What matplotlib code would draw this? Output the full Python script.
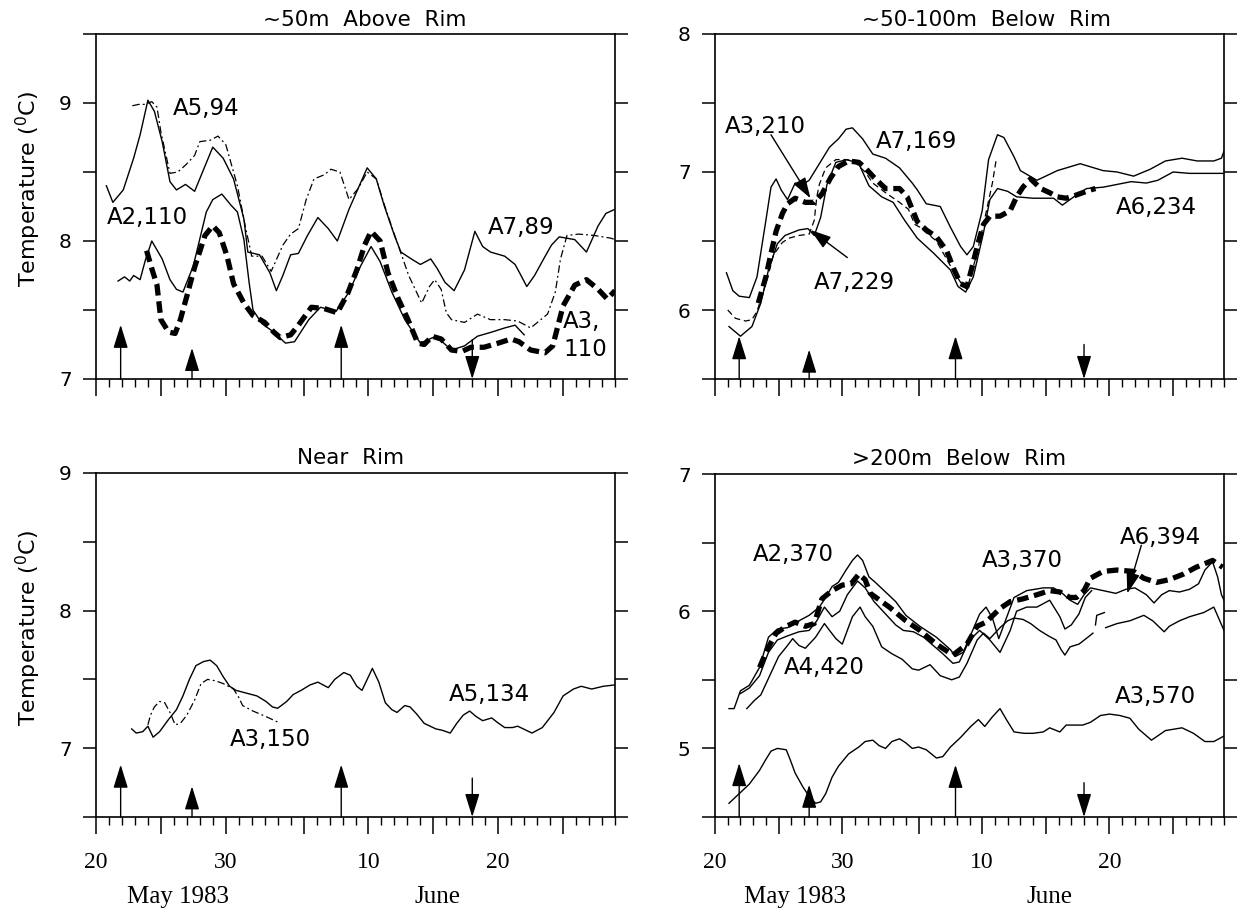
import numpy as np
import matplotlib
matplotlib.use('Agg')
import matplotlib.pyplot as plt
from matplotlib.ticker import FixedLocator, MultipleLocator, FuncFormatter

plt.rcParams['font.family'] = ['DejaVu Sans']
plt.rcParams['mathtext.default'] = 'regular'

nan = np.nan

# x axis is days after 20 May 1983 (day 11 = 31 May, day 12 = 1 June)

# ---- ~50m above rim ----
a7_89_day = [0.8, 1.3, 2.1, 2.9, 3.4, 4.0, 4.5, 5.1, 5.7, 6.2, 6.9, 7.6, 8.3, 9.0, 9.8,
             10.6, 11.4, 11.7, 12.6, 13.4, 13.9, 14.4, 15.0, 15.6, 16.3, 17.1, 17.9, 18.6,
             19.5, 20.2, 20.9, 21.6, 22.2, 23.0, 23.5, 24.3, 25.0, 25.8, 26.3, 26.9, 27.6,
             28.4, 29.2, 29.8, 30.4, 31.5, 32.3, 32.7, 33.2, 33.8, 34.5, 35.1, 35.7, 36.3,
             36.9, 37.8, 38.7, 39.3, 40.0]
a7_89_t = [8.40, 8.28, 8.37, 8.60, 8.77, 9.02, 8.94, 8.72, 8.43, 8.37, 8.41, 8.36, 8.52, 8.68,
           8.60, 8.45, 8.16, 7.92, 7.90, 7.77, 7.64, 7.75, 7.90, 7.91, 8.04, 8.17, 8.09, 8.00,
           8.23, 8.38, 8.53, 8.45, 8.26, 8.04, 7.92, 7.87, 7.83, 7.87, 7.80, 7.70, 7.64, 7.79,
           8.07, 7.96, 7.92, 7.89, 7.83, 7.76, 7.67, 7.75, 7.87, 7.97, 8.03, 8.02, 8.01, 7.92,
           8.11, 8.20, 8.23]

a5_94_day = [2.8, 3.3, 3.8, 4.3, 4.7, 5.0, 5.4, 5.7, 6.3, 6.9, 7.6, 8.0, 8.8, 9.4, 10.0,
             10.9, 11.5, 12.0, 12.8, 13.5, 14.4, 15.0, 15.6, 16.2, 16.8, 17.6, 18.1, 18.8,
             19.5, 20.2, 20.9, 21.6, 22.3, 23.1, 24.1, 24.7, 25.1, 25.7, 26.1, 26.6, 27.0,
             27.4, 28.4, 29.4, 30.4, 31.5, 32.5, 33.5, 34.8, 35.4, 35.8, 36.3, 37.2, 38.4,
             39.7, 40.0]
a5_94_t = [8.98, 8.99, 8.99, 9.01, 8.97, 8.79, 8.62, 8.49, 8.50, 8.55, 8.62, 8.72, 8.73, 8.76,
           8.70, 8.40, 8.11, 7.89, 7.89, 7.78, 7.97, 8.05, 8.09, 8.30, 8.45, 8.48, 8.52, 8.50,
           8.30, 8.38, 8.50, 8.45, 8.24, 8.02, 7.75, 7.63, 7.55, 7.67, 7.72, 7.65, 7.48, 7.43,
           7.41, 7.47, 7.43, 7.43, 7.42, 7.37, 7.47, 7.63, 7.87, 8.04, 8.05, 8.04, 8.02, 8.01]

a2_110_day = [1.7, 2.2, 2.6, 2.9, 3.4, 3.8, 4.3, 5.1, 5.7, 6.2, 6.7, 7.5, 8.5, 9.0, 9.7,
              10.4, 10.9, 11.4, 11.8, 12.1, 12.8, 13.7, 14.6, 15.3, 16.4, 17.3, 18.5, 19.5,
              20.4, 21.2, 21.9, 22.8, 23.8, 25.0, 26.2, 27.4, 28.4, 29.4, 30.5, 31.5, 32.3, 33.0]
a2_110_t = [7.71, 7.74, 7.71, 7.75, 7.72, 7.86, 8.00, 7.87, 7.72, 7.65, 7.63, 7.82, 8.21, 8.30,
            8.34, 8.26, 8.21, 8.01, 7.70, 7.50, 7.40, 7.34, 7.26, 7.27, 7.43, 7.52, 7.49, 7.63,
            7.82, 7.96, 7.85, 7.63, 7.43, 7.26, 7.31, 7.21, 7.24, 7.31, 7.34, 7.37, 7.39, 7.32]

a3_110_day = [3.9, 4.3, 4.7, 5.0, 5.6, 6.1, 6.5, 7.0, 7.6, 8.4, 9.0, 9.5, 10.1, 10.6, 11.4,
              12.1, 13.0, 13.7, 14.2, 15.0, 15.6, 16.6, 17.6, 18.6, 19.4, 20.1, 20.7, 21.2,
              21.9, 22.5, 23.3, 24.0, 24.8, 25.3, 25.9, 26.6, 27.4, 28.2, 28.9, 29.9, 31.0,
              32.0, 32.6, 33.5, 34.6, 35.2, 36.0, 36.9, 37.8, 38.7, 39.4, 40.0]
a3_110_t = [7.93, 7.80, 7.68, 7.43, 7.34, 7.33, 7.43, 7.60, 7.81, 8.04, 8.11, 8.06, 7.89, 7.69,
            7.55, 7.46, 7.41, 7.34, 7.30, 7.32, 7.39, 7.52, 7.51, 7.48, 7.62, 7.79, 7.97, 8.07,
            8.00, 7.77, 7.58, 7.44, 7.26, 7.25, 7.31, 7.29, 7.21, 7.20, 7.23, 7.23, 7.26, 7.29,
            7.27, 7.21, 7.19, 7.24, 7.53, 7.68, 7.72, 7.65, 7.58, 7.64]

# ---- ~50-100m below rim ----
a7_169_day = [0.9, 1.4, 1.9, 2.7, 3.3, 4.0, 4.4, 4.8, 5.2, 5.7, 6.3, 6.9, 7.4, 8.2, 9.0,
              9.7, 10.3, 10.8, 11.6, 12.4, 13.4, 14.5, 15.5, 15.9, 16.6, 17.7, 18.5, 19.3,
              19.8, 20.3, 21.0, 21.5, 22.2, 22.7, 23.5, 24.0, 25.3, 26.9, 28.7, 30.5, 31.6,
              32.9, 34.2, 35.4, 36.7, 37.9, 39.2, 39.8, 40.0]
a7_169_t = [6.27, 6.14, 6.10, 6.09, 6.24, 6.65, 6.89, 6.95, 6.87, 6.80, 6.92, 6.91, 6.94, 7.06,
            7.18, 7.24, 7.31, 7.32, 7.24, 7.13, 7.10, 7.03, 6.92, 6.87, 6.77, 6.75, 6.60, 6.46,
            6.40, 6.46, 6.72, 7.09, 7.27, 7.25, 7.11, 7.01, 6.94, 7.01, 7.06, 7.01, 7.00, 6.97,
            7.02, 7.08, 7.10, 7.08, 7.08, 7.10, 7.15]

a6_234_day = [1.1, 2.0, 2.9, 3.6, 4.2, 4.9, 5.5, 6.6, 7.3, 7.8, 8.3, 8.8, 9.5, 10.4, 11.3,
              12.1, 13.1, 14.0, 14.9, 15.9, 17.2, 18.5, 19.1, 19.7, 20.3, 21.1, 21.6, 22.2,
              23.0, 23.7, 25.0, 26.6, 27.3, 28.2, 29.2, 30.5, 31.6, 32.7, 33.9, 34.8, 36.0,
              37.3, 38.8, 40.0]
a6_234_t = [5.88, 5.81, 5.88, 6.05, 6.29, 6.48, 6.54, 6.58, 6.59, 6.54, 6.67, 6.91, 7.07, 7.09,
            7.06, 6.90, 6.82, 6.78, 6.65, 6.52, 6.41, 6.29, 6.17, 6.13, 6.24, 6.56, 6.80, 6.88,
            6.86, 6.82, 6.81, 6.81, 6.76, 6.82, 6.88, 6.89, 6.91, 6.93, 6.92, 6.94, 7.00, 6.99,
            6.99, 6.99]

a3_210_day = [3.4, 4.0, 4.4, 4.8, 5.3, 5.7, 6.3, 7.1, 7.8, 8.4, 9.1, 9.7, 10.5, 11.3, 11.8,
              12.5, 13.4, 14.5, 15.1, 15.5, 15.9, 16.6, 17.4, 18.2, 18.8, 19.3, 19.8, 20.2,
              20.6, 21.1, 21.6, 22.4, 23.2, 23.7, 24.2, 24.8, 25.6, 26.3, 26.9, 27.6, 28.3,
              28.9, 29.5, 29.9]
a3_210_t = [6.05, 6.24, 6.41, 6.57, 6.70, 6.77, 6.81, 6.78, 6.78, 6.84, 6.96, 7.04, 7.08, 7.07,
            7.03, 6.96, 6.88, 6.88, 6.82, 6.73, 6.64, 6.58, 6.53, 6.43, 6.29, 6.19, 6.17, 6.31,
            6.46, 6.62, 6.68, 6.68, 6.72, 6.82, 6.89, 6.95, 6.88, 6.85, 6.82, 6.81, 6.83, 6.85,
            6.87, 6.88]

a7_229_day = [1.0, 1.6, 2.4, 2.9, 3.3, 4.0, 4.6, 5.3, 5.8, 6.6, 7.4, 7.8, 8.0, 8.2, 8.7,
              9.5, 10.3, 11.0, 11.8, 12.4, 13.4, 14.5, 15.2, 15.7, 16.1, 16.6, 17.4, 18.5,
              19.3, 19.8, 20.5, 21.1, 21.8, 22.1]
a7_229_t = [6.00, 5.94, 5.92, 5.93, 5.99, 6.19, 6.40, 6.49, 6.52, 6.54, 6.55, 6.65, 6.82, 6.91,
            7.03, 7.09, 7.09, 7.07, 7.00, 6.92, 6.85, 6.78, 6.73, 6.62, 6.60, 6.56, 6.50, 6.32,
            6.20, 6.15, 6.38, 6.62, 6.92, 7.09]

# ---- near rim ----
a5_134_day = [2.75, 3.1, 3.6, 4.0, 4.4, 4.9, 5.6, 6.2, 6.7, 7.2, 7.7, 8.3, 8.8, 9.3, 9.8,
              10.3, 10.8, 11.6, 12.4, 13.1, 13.6, 14.0, 14.7, 15.2, 15.8, 16.5, 17.1, 17.9,
              18.4, 19.1, 19.6, 20.1, 20.5, 20.9, 21.3, 21.8, 22.3, 22.8, 23.2, 23.8, 24.2,
              24.7, 25.3, 26.2, 26.7, 27.3, 27.8, 28.3, 28.8, 29.3, 29.8, 30.5, 30.9, 31.5,
              32.1, 32.5, 33.6, 34.4, 35.3, 36.0, 36.8, 37.4, 38.2, 39.1, 40.0]
a5_134_t = [7.14, 7.11, 7.12, 7.16, 7.08, 7.12, 7.21, 7.28, 7.38, 7.50, 7.60, 7.63, 7.64, 7.60,
            7.52, 7.45, 7.42, 7.40, 7.38, 7.34, 7.30, 7.29, 7.34, 7.39, 7.42, 7.46, 7.48, 7.44,
            7.50, 7.55, 7.53, 7.45, 7.42, 7.50, 7.58, 7.48, 7.33, 7.28, 7.26, 7.31, 7.30, 7.25,
            7.18, 7.14, 7.13, 7.11, 7.18, 7.24, 7.27, 7.23, 7.20, 7.22, 7.19, 7.15, 7.15, 7.16,
            7.11, 7.15, 7.26, 7.38, 7.43, 7.45, 7.43, 7.45, 7.46]

a3_150_day = [4.0, 4.2, 4.5, 4.9, 5.3, 5.7, 6.1, 6.5, 7.0, 7.6, 8.1, 8.6, 9.2, 9.8, 10.6,
              11.0, 11.3, 12.1, 13.1, 14.0]
a3_150_t = [7.17, 7.24, 7.30, 7.34, 7.33, 7.26, 7.17, 7.18, 7.24, 7.35, 7.47, 7.50, 7.49, 7.47,
            7.43, 7.37, 7.31, 7.27, 7.23, 7.19]

# ---- >200m below rim ----
a2_370_day = [1.1, 1.5, 2.0, 2.7, 3.5, 4.2, 4.9, 5.7, 6.6, 7.4, 8.2, 8.7, 9.2, 9.7, 10.3,
              10.8, 11.2, 11.6, 12.1, 12.6, 13.4, 14.2, 15.0, 16.1, 17.4, 18.5, 18.9, 19.5,
              20.2, 20.8, 21.3, 21.8, 22.3, 22.9, 23.5, 24.5, 25.8, 26.6, 27.3, 27.9, 28.5,
              29.0, 29.5, 30.5, 31.5, 32.3, 33.0, 33.9, 34.5, 35.1, 35.7, 36.5, 37.3, 38.0,
              38.5, 39.1, 39.5, 39.8, 40.0]
a2_370_t = [5.29, 5.29, 5.42, 5.46, 5.59, 5.81, 5.87, 5.88, 5.93, 5.97, 6.03, 6.10, 6.18, 6.21,
            6.30, 6.37, 6.41, 6.37, 6.25, 6.21, 6.14, 6.07, 5.97, 5.89, 5.81, 5.72, 5.67, 5.70,
            5.85, 5.98, 6.03, 5.95, 5.80, 5.95, 6.10, 6.15, 6.17, 6.17, 6.13, 6.08, 6.05, 6.12,
            6.17, 6.15, 6.13, 6.16, 6.17, 6.12, 6.06, 6.12, 6.15, 6.14, 6.16, 6.20, 6.30, 6.36,
            6.25, 6.12, 6.08]

a3_370_day = [3.5, 4.1, 4.8, 5.6, 6.3, 7.1, 7.8, 8.4, 9.2, 10.0, 10.7, 11.3, 11.8, 12.2, 13.7,
              15.0, 16.1, 17.4, 18.7, 19.8, 20.6, 21.3, 22.4, 23.2, 24.2, 25.3, 26.3, 27.1,
              27.9, 28.4, 29.0, 29.5, 30.5, 31.6, 32.9, 33.7, 34.7, 35.7, 36.8, 37.8, 39.1, 39.9]
a3_370_t = [5.59, 5.72, 5.84, 5.89, 5.92, 5.89, 5.91, 6.09, 6.15, 6.19, 6.20, 6.27, 6.23, 6.13,
            6.03, 5.93, 5.86, 5.76, 5.68, 5.76, 5.89, 5.92, 6.02, 6.07, 6.09, 6.12, 6.15, 6.14,
            6.10, 6.10, 6.15, 6.24, 6.29, 6.30, 6.29, 6.24, 6.21, 6.23, 6.27, 6.32, 6.37, 6.32]

a6_394_day = [2.0, 2.7, 3.5, 4.2, 4.9, 5.7, 6.6, 7.4, 8.0, 8.6, 9.2, 9.8, 10.4, 11.2, 11.8,
              12.5, 13.4, 14.2, 14.8, 15.6, 16.4, 17.9, 18.7, 19.2, 20.0, 20.8, 21.6, 22.4,
              23.2, 23.7, 24.5, 25.3, 26.3, 27.1, 27.5, 28.0, 28.6, 29.1, 29.6]
a6_394_t = [5.40, 5.44, 5.53, 5.70, 5.79, 5.82, 5.85, 5.86, 5.93, 6.03, 5.96, 6.00, 6.12, 6.22,
            6.17, 6.07, 5.98, 5.90, 5.86, 5.85, 5.81, 5.69, 5.62, 5.63, 5.79, 5.86, 5.79, 5.70,
            5.86, 6.00, 6.03, 6.03, 6.08, 5.96, 5.87, 5.90, 5.98, 6.10, 6.15]

a4_420_day = [2.5, 3.1, 3.6, 4.4, 5.0, 5.7, 6.1, 6.6, 7.1, 7.9, 8.6, 9.0, 9.5, 10.0, 10.8,
              11.4, 11.8, 12.4, 13.1, 13.9, 14.7, 15.5, 16.0, 16.9, 17.7, 18.6, 19.2, 19.8,
              20.6, 21.1, 21.6, 22.4, 23.0, 23.5, 24.2, 24.8, 25.5, 26.2, 26.8, 27.2, 27.5,
              27.9, 28.6, 29.3, 29.7, nan, 29.9, 30.0, 30.6, nan, 30.7, 31.6, 32.6, 33.7,
              34.4, 35.3, 35.7, 36.5, 37.3, 38.4, 39.2, 40.0]
a4_420_t = [5.29, 5.35, 5.39, 5.55, 5.67, 5.75, 5.80, 5.75, 5.73, 5.81, 5.91, 5.86, 5.80, 5.76,
            5.96, 6.03, 5.96, 5.89, 5.74, 5.69, 5.65, 5.58, 5.57, 5.61, 5.53, 5.50, 5.52, 5.62,
            5.79, 5.84, 5.80, 5.88, 5.93, 5.95, 5.94, 5.91, 5.86, 5.82, 5.79, 5.72, 5.68, 5.74,
            5.76, 5.81, 5.84, nan, 5.90, 5.97, 5.99, nan, 5.88, 5.91, 5.93, 5.97, 5.93, 5.85,
            5.89, 5.93, 5.96, 5.99, 6.03, 5.86]

a3_570_day = [1.1, 2.7, 3.5, 4.0, 4.4, 4.9, 5.6, 5.9, 6.3, 6.9, 7.4, 7.9, 8.3, 8.7, 9.2,
              9.7, 10.5, 11.3, 11.8, 12.4, 12.9, 13.4, 13.9, 14.5, 15.0, 15.5, 16.0, 16.6,
              17.4, 17.9, 18.5, 19.3, 20.1, 20.7, 21.2, 21.8, 22.4, 22.9, 23.5, 24.3, 25.0,
              25.8, 26.3, 27.1, 27.6, 28.2, 28.9, 29.5, 30.3, 31.0, 31.8, 32.6, 33.3, 34.3,
              35.4, 36.7, 37.6, 38.5, 39.2, 40.0]
a3_570_t = [4.60, 4.74, 4.84, 4.92, 4.98, 5.00, 4.99, 4.92, 4.82, 4.72, 4.65, 4.60, 4.61, 4.67,
            4.79, 4.87, 4.96, 5.01, 5.05, 5.06, 5.02, 5.00, 5.05, 5.07, 5.04, 5.00, 5.01, 4.99,
            4.93, 4.94, 5.01, 5.08, 5.16, 5.21, 5.16, 5.23, 5.29, 5.21, 5.12, 5.11, 5.11, 5.12,
            5.15, 5.12, 5.17, 5.17, 5.17, 5.19, 5.24, 5.25, 5.24, 5.22, 5.14, 5.06, 5.13, 5.15,
            5.11, 5.05, 5.05, 5.09]

# times marked by the arrows along the bottom of each panel
event_day = [1.9, 7.4, 18.9, 29.0]
event_up = [True, True, True, False]

major_tick_day = [0, 5, 10, 16, 21, 26, 31, 36]
date_tick_day = [0, 10, 21, 31]
date_tick_label = ['20', '30', '10', '20']
month_label = ['May 1983', 'June']
month_label_day = [6.3, 26.3]

SOLID = dict(color='k', lw=1.0, ls='-')
BOLD = dict(color='k', lw=3.8, ls=(0, (2.2, 1.1)))
DASHDOT = dict(color='k', lw=0.9, ls=(0, (6, 2.5, 1.5, 2.5)))
DASHED = dict(color='k', lw=0.9, ls=(0, (5, 3)))
ARROW = dict(arrowstyle='-|>,head_length=0.9,head_width=0.28', mutation_scale=16,
             lw=1.0, color='k', shrinkA=0, shrinkB=0)
LABEL_ARROW = dict(arrowstyle='-|>,head_length=0.8,head_width=0.26', mutation_scale=16,
                   lw=1.0, color='k', shrinkA=0, shrinkB=0)


def int_only(v, pos):
    return '%d' % round(v) if abs(v - round(v)) < 1e-6 else ''


def setup(ax, ylim, title, title_x, bottom_row):
    ax.set_xlim(0, 40)
    ax.set_ylim(*ylim)
    ax.xaxis.set_major_locator(FixedLocator(major_tick_day))
    ax.xaxis.set_minor_locator(FixedLocator(list(range(0, 41))))
    ax.yaxis.set_major_locator(MultipleLocator(0.5))
    ax.yaxis.set_major_formatter(FuncFormatter(int_only))
    ax.tick_params(axis='y', which='major', direction='out', length=9.5, width=1.1,
                   left=True, right=True, labelsize=14.5, pad=8)
    ax.tick_params(axis='x', which='major', direction='out', length=12, width=1.1, pad=13)
    ax.tick_params(axis='x', which='minor', direction='out', length=6, width=1.0)
    for s in ax.spines.values():
        s.set_linewidth(1.2)
    if bottom_row:
        labels = [date_tick_label[date_tick_day.index(d)] if d in date_tick_day else ''
                  for d in major_tick_day]
        ax.set_xticklabels(labels, fontfamily='Liberation Serif', fontsize=17)
        for name, d in zip(month_label, month_label_day):
            ax.text(d, -0.2326, name, transform=ax.get_xaxis_transform(), ha='center',
                    va='center', fontfamily='Liberation Serif', fontsize=18)
        ty = 1.044
    else:
        ax.tick_params(axis='x', labelbottom=False)
        ty = 1.041
    ax.text(title_x, ty, title, transform=ax.transAxes, ha='center', va='center',
            fontsize=15.5)


def events(ax, heights):
    tr = ax.get_xaxis_transform()
    for d, up, h in zip(event_day, event_up, heights):
        y0, y1 = (0, h) if up else (h, 0)
        ax.annotate('', xy=(d, y1), xytext=(d, y0), xycoords=tr, textcoords=tr,
                    arrowprops=ARROW, annotation_clip=False)


def label(ax, x, y, s):
    ax.text(x, y, s, ha='left', va='center', fontsize=16.5)


fig = plt.figure(figsize=(12.49, 9.13), dpi=100)
W, H = 1249.0, 913.0
ax1 = fig.add_axes([96 / W, 1 - 379 / H, 519 / W, 345 / H])
ax2 = fig.add_axes([715 / W, 1 - 379 / H, 509 / W, 345 / H])
ax3 = fig.add_axes([96 / W, 1 - 817 / H, 519 / W, 344 / H])
ax4 = fig.add_axes([715 / W, 1 - 817 / H, 509 / W, 343 / H])

# ~50m above rim
setup(ax1, (7, 9.5), '~50m  Above  Rim', 0.518, False)
ax1.plot(a7_89_day, a7_89_t, **SOLID)
ax1.plot(a5_94_day, a5_94_t, **DASHDOT)
ax1.plot(a2_110_day, a2_110_t, **SOLID)
ax1.plot(a3_110_day, a3_110_t, **BOLD)
label(ax1, 5.9, 8.96, 'A5,94')
label(ax1, 0.8, 8.17, 'A2,110')
label(ax1, 30.2, 8.10, 'A7,89')
ax1.text(36.0, 7.315, 'A3,\n110', ha='left', va='center', fontsize=16.5, linespacing=1.25)
events(ax1, [0.157, 0.09, 0.157, 0.114])
ax1.set_ylabel('Temperature ($^0$C)', fontsize=16)
ax1.yaxis.set_label_coords(-0.102, 0.55)

# ~50-100m below rim
setup(ax2, (5.5, 8), '~50-100m  Below  Rim', 0.534, False)
ax2.plot(a7_169_day, a7_169_t, **SOLID)
ax2.plot(a6_234_day, a6_234_t, **SOLID)
ax2.plot(a7_229_day, a7_229_t, **DASHED)
ax2.plot(a3_210_day, a3_210_t, **BOLD)
label(ax2, 0.8, 7.33, 'A3,210')
label(ax2, 12.6, 7.22, 'A7,169')
label(ax2, 31.5, 6.74, 'A6,234')
label(ax2, 7.8, 6.20, 'A7,229')
ax2.annotate('', xy=(7.5, 6.81), xytext=(4.4, 7.27), arrowprops=LABEL_ARROW)
ax2.annotate('', xy=(7.5, 6.58), xytext=(10.4, 6.38), arrowprops=LABEL_ARROW)
events(ax2, [0.124, 0.085, 0.124, 0.10])

# near rim
setup(ax3, (6.5, 9), 'Near  Rim', 0.491, True)
ax3.plot(a5_134_day, a5_134_t, **SOLID)
ax3.plot(a3_150_day, a3_150_t, **DASHDOT)
label(ax3, 10.3, 7.06, 'A3,150')
label(ax3, 27.2, 7.39, 'A5,134')
events(ax3, [0.152, 0.089, 0.152, 0.113])
ax3.set_ylabel('Temperature ($^0$C)', fontsize=16)
ax3.yaxis.set_label_coords(-0.102, 0.55)

# >200m below rim
setup(ax4, (4.5, 7), '>200m  Below  Rim', 0.479, True)
ax4.plot(a2_370_day, a2_370_t, **SOLID)
ax4.plot(a6_394_day, a6_394_t, **SOLID)
ax4.plot(a4_420_day, a4_420_t, **SOLID)
ax4.plot(a3_570_day, a3_570_t, **SOLID)
ax4.plot(a3_370_day, a3_370_t, **BOLD)
label(ax4, 2.95, 6.41, 'A2,370')
label(ax4, 5.4, 5.59, 'A4,420')
label(ax4, 21.0, 6.37, 'A3,370')
label(ax4, 31.8, 6.54, 'A6,394')
label(ax4, 31.4, 5.38, 'A3,570')
ax4.annotate('', xy=(32.4, 6.13), xytext=(33.5, 6.48), arrowprops=LABEL_ARROW)
events(ax4, [0.157, 0.094, 0.152, 0.10])

fig.savefig('out.png', dpi=100)
